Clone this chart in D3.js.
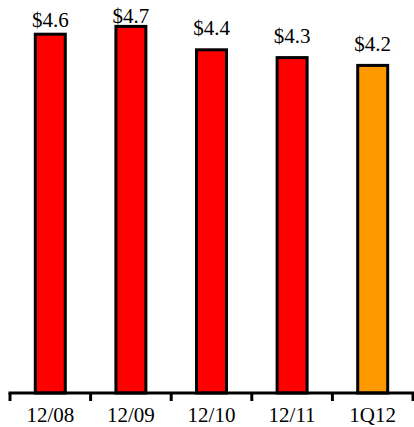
<!DOCTYPE html>
<html>
<head>
<meta charset="utf-8">
<script src="https://cdn.jsdelivr.net/npm/d3@7"></script>
<style>
  html, body { margin: 0; padding: 0; background: #fff; }
  svg { display: block; }
  text { font-family: "Liberation Serif", "Times New Roman", serif; fill: #000; }
</style>
</head>
<body>
<svg id="chart" width="414" height="427"></svg>
<script>
const categories = ["12/08", "12/09", "12/10", "12/11", "1Q12"];
const values = [4.6, 4.7, 4.4, 4.3, 4.2];
const valueLabels = ["$4.6", "$4.7", "$4.4", "$4.3", "$4.2"];
const barColors = ["#ff0000", "#ff0000", "#ff0000", "#ff0000", "#ff9900"];

const labelGap = [6, 2, 13, 13, 13];

const svg = d3.select("#chart");
const plotLeft = 10, plotRight = 413, baseline = 393, plotTop = 3;

const x = d3.scaleBand().domain(categories).range([plotLeft, plotRight]).padding(0);
const y = d3.scaleLinear().domain([0, 5]).range([baseline, plotTop]);
const barW = x.bandwidth() * 0.372;

svg.append("g").selectAll("rect")
  .data(values)
  .join("rect")
  .attr("x", (d, i) => x(categories[i]) + x.bandwidth() / 2 - barW / 2)
  .attr("y", d => y(d))
  .attr("width", barW)
  .attr("height", d => baseline - y(d))
  .attr("fill", (d, i) => barColors[i])
  .attr("stroke", "#000")
  .attr("stroke-width", 3);

svg.append("g").selectAll("text")
  .data(values)
  .join("text")
  .attr("x", (d, i) => x(categories[i]) + x.bandwidth() / 2)
  .attr("y", (d, i) => y(d) - 1.5 - labelGap[i])
  .attr("text-anchor", "middle")
  .attr("font-size", 21)
  .text((d, i) => valueLabels[i]);

// axis
const axisG = svg.append("g");
axisG.append("line")
  .attr("x1", plotLeft - 1.5).attr("x2", plotRight + 1)
  .attr("y1", baseline).attr("y2", baseline)
  .attr("stroke", "#000").attr("stroke-width", 3);
const tickPos = categories.map(c => x(c)).concat([plotRight]);
axisG.selectAll("line.tick")
  .data(tickPos)
  .join("line")
  .attr("class", "tick")
  .attr("x1", d => d).attr("x2", d => d)
  .attr("y1", baseline).attr("y2", baseline + 8)
  .attr("stroke", "#000").attr("stroke-width", 3);
axisG.selectAll("text")
  .data(categories)
  .join("text")
  .attr("x", d => x(d) + x.bandwidth() / 2)
  .attr("y", 422)
  .attr("text-anchor", "middle")
  .attr("font-size", 21)
  .text(d => d);
</script>
</body>
</html>
